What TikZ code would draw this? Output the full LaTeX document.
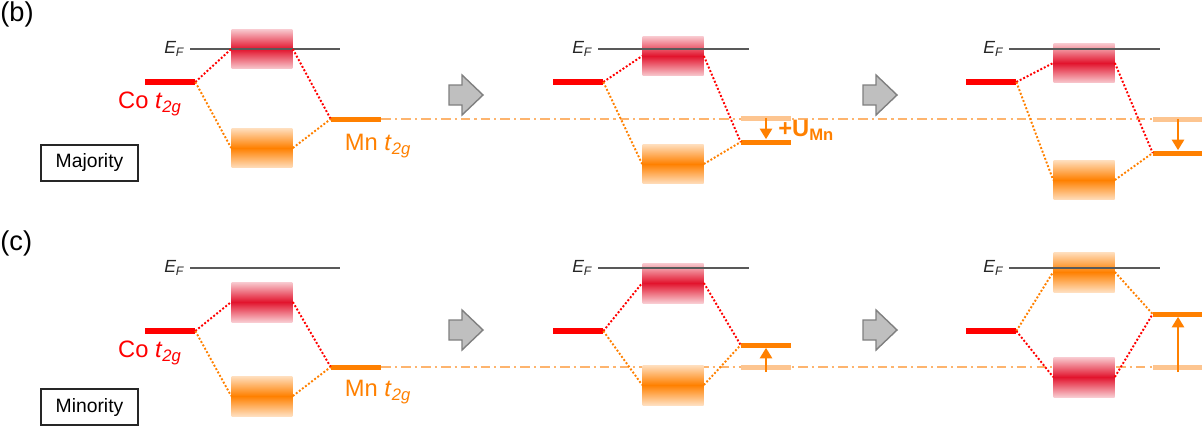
\documentclass[tikz,border=0pt]{standalone}
\usepackage{fontspec}
\setmainfont{Liberation Sans}
\usepackage{tikz}
\usetikzlibrary{positioning, arrows.meta, backgrounds}

\definecolor{coRed}{HTML}{FF0000}
\definecolor{bandRed}{HTML}{E2142D}
\definecolor{mnOrange}{HTML}{FF8000}
\definecolor{mnLight}{HTML}{FDC590}
\definecolor{refOrange}{HTML}{FDB46E}
\definecolor{efGray}{HTML}{595959}
\definecolor{stepGray}{HTML}{808080}
\definecolor{stepFill}{HTML}{BFBFBF}

\tikzset{
  lvl/.style={rectangle, inner sep=0pt, minimum width=1cm},
  colvl/.style={lvl, fill=coRed, minimum height=0.12cm},
  mnlvl/.style={lvl, fill=mnOrange, minimum height=0.1cm},
  oldlvl/.style={lvl, fill=mnLight, minimum height=0.1cm},
  band/.style={rectangle, inner sep=0pt, minimum width=1.22cm, minimum height=0.8cm},
  redband/.style={band, top color=bandRed!22, bottom color=bandRed!22, middle color=bandRed},
  orangeband/.style={band, top color=mnOrange!25, bottom color=mnOrange!25, middle color=mnOrange},
  redbond/.style={coRed, line width=1.1pt, dash pattern=on 1.1pt off 1.1pt},
  orangebond/.style={mnOrange, line width=1.1pt, dash pattern=on 1.1pt off 1.1pt},
  efline/.style={efGray, line width=1.1pt},
  eflabel/.style={left=3pt, inner sep=0pt, text=black!85, font=\fontsize{10}{12}\selectfont\itshape},
  refline/.style={refOrange, line width=1.1pt, dash pattern=on 5.5pt off 2.3pt on 1.2pt off 2.3pt},
  shiftarrow/.style={-{Triangle[length=6pt, width=7pt]}, mnOrange, line width=1.1pt},
  stepshape/.style={draw=stepGray, fill=stepFill, line width=0.8pt, line join=miter},
  spinbox/.style={draw=black!85, line width=1pt, minimum width=1.94cm, minimum height=0.72cm,
    font=\fontsize{11}{13}\selectfont},
  colabel/.style={text=coRed, inner sep=0pt, font=\fontsize{13.5}{16}\selectfont},
  mnlabel/.style={text=mnOrange, inner sep=0pt, font=\fontsize{13.5}{16}\selectfont},
  panellabel/.style={anchor=west, inner sep=0pt, font=\fontsize{15.5}{18}\selectfont},
}

\newcommand{\tg}{\textit{t}\textsubscript{\textit{2g}}}
\newcommand{\efermi}{E\textsubscript{F}}
% fat grey block arrow centred on a named coordinate
\newcommand{\steparrow}[1]{%
  \draw[stepshape] (#1) ++(-17,-10) -- ++(13,0) -- ++(0,-10) -- ++(21,20)
    -- ++(-21,20) -- ++(0,-10) -- ++(-13,0) -- cycle;}

\begin{document}
\begin{tikzpicture}[x=0.02cm, y=-0.02cm]
  \useasboundingbox (0,0) rectangle (1202,426);

  % ---------- (b) majority ----------
  \node[panellabel] (lb) at (0,14) {(b)};
  \node[spinbox] (maj) at (89.5,163) {Majority};

  % panel 1
  \node[redband] (rb1) at (262,49) {};
  \node[orangeband] (ob1) at (262,148) {};
  \node[colvl] (co1) at (170,82) {};
  \node[mnlvl] (mn1) at (356,119) {};
  \coordinate (efa1) at (190,49);
  \coordinate (efb1) at (340,49);
  \draw[efline] (efa1) -- (efb1);
  \node[eflabel] (efl1) at (efa1) {\efermi};
  \node[colabel] (col1) at (150,104) {Co \tg};
  \node[mnlabel] (mnl1) at (378,146) {Mn \tg};
  \draw[redbond] (co1.east) -- (rb1.west);
  \draw[redbond] (rb1.east) -- (mn1.west);
  \draw[orangebond] (co1.east) -- (ob1.west);
  \draw[orangebond] (ob1.east) -- (mn1.west);

  \coordinate (st1) at (466,95);
  \steparrow{st1}

  % panel 2
  \node[redband] (rb2) at (673,56) {};
  \node[orangeband] (ob2) at (673,164) {};
  \node[colvl] (co2) at (578,82) {};
  \node[oldlvl] (old2) at (766,118) {};
  \node[mnlvl] (mn2) at (766,142) {};
  \coordinate (efa2) at (598,49);
  \coordinate (efb2) at (749,49);
  \draw[efline] (efa2) -- (efb2);
  \node[eflabel] (efl2) at (efa2) {\efermi};
  \draw[redbond] (co2.east) -- (rb2.west);
  \draw[redbond] (rb2.east) -- (mn2.west);
  \draw[orangebond] (co2.east) -- (ob2.west);
  \draw[orangebond] (ob2.east) -- (mn2.west);
  \draw[shiftarrow] (old2.center) -- (mn2.north);
  \node[anchor=west, inner sep=0pt, text=mnOrange, font=\fontsize{13.5}{16}\selectfont\bfseries]
    (umn) at (778,130) {+U\textsubscript{Mn}};

  \coordinate (st2) at (880,95);
  \steparrow{st2}

  % panel 3
  \node[redband] (rb3) at (1084,63) {};
  \node[orangeband] (ob3) at (1084,180) {};
  \node[colvl] (co3) at (991,82) {};
  \node[oldlvl] (old3) at (1178,119) {};
  \node[mnlvl] (mn3) at (1178,153) {};
  \coordinate (efa3) at (1009,49);
  \coordinate (efb3) at (1160,49);
  \draw[efline] (efa3) -- (efb3);
  \node[eflabel] (efl3) at (efa3) {\efermi};
  \draw[redbond] (co3.east) -- (rb3.west);
  \draw[redbond] (rb3.east) -- (mn3.west);
  \draw[orangebond] (co3.east) -- (ob3.west);
  \draw[orangebond] (ob3.east) -- (mn3.west);
  \draw[shiftarrow] (old3.center) -- (mn3.north);

  % ---------- (c) minority ----------
  \node[panellabel] (lc) at (0,243) {(c)};
  \node[spinbox] (mnr) at (89.5,407) {Minority};

  % panel 1
  \node[redband] (rb4) at (262,302) {};
  \node[orangeband] (ob4) at (262,396) {};
  \node[colvl] (co4) at (170,331) {};
  \node[mnlvl] (mn4) at (356,367) {};
  \coordinate (efa4) at (190,268);
  \coordinate (efb4) at (340,268);
  \draw[efline] (efa4) -- (efb4);
  \node[eflabel] (efl4) at (efa4) {\efermi};
  \node[colabel] (col4) at (150,353) {Co \tg};
  \node[mnlabel] (mnl4) at (378,392) {Mn \tg};
  \draw[redbond] (co4.east) -- (rb4.west);
  \draw[redbond] (rb4.east) -- (mn4.west);
  \draw[orangebond] (co4.east) -- (ob4.west);
  \draw[orangebond] (ob4.east) -- (mn4.west);

  \coordinate (st3) at (466,330);
  \steparrow{st3}

  % panel 2
  \node[redband] (rb5) at (673,283) {};
  \node[orangeband] (ob5) at (673,385) {};
  \node[colvl] (co5) at (578,331) {};
  \node[oldlvl] (old5) at (766,367) {};
  \node[mnlvl] (mn5) at (766,345) {};
  \coordinate (efa5) at (598,268);
  \coordinate (efb5) at (749,268);
  \draw[efline] (efa5) -- (efb5);
  \node[eflabel] (efl5) at (efa5) {\efermi};
  \draw[redbond] (co5.east) -- (rb5.west);
  \draw[redbond] (rb5.east) -- (mn5.west);
  \draw[orangebond] (co5.east) -- (ob5.west);
  \draw[orangebond] (ob5.east) -- (mn5.west);
  \draw[shiftarrow] ([yshift=-0.1cm]old5.center) -- (mn5.south);

  \coordinate (st4) at (880,330);
  \steparrow{st4}

  % panel 3 (bands swapped)
  \node[orangeband] (ob6) at (1084,272) {};
  \node[redband] (rb6) at (1084,377) {};
  \node[colvl] (co6) at (991,331) {};
  \node[oldlvl] (old6) at (1178,367) {};
  \node[mnlvl] (mn6) at (1178,314) {};
  \coordinate (efa6) at (1009,268);
  \coordinate (efb6) at (1160,268);
  \draw[efline] (efa6) -- (efb6);
  \node[eflabel] (efl6) at (efa6) {\efermi};
  \draw[orangebond] (co6.east) -- (ob6.west);
  \draw[orangebond] (ob6.east) -- (mn6.west);
  \draw[redbond] (co6.east) -- (rb6.west);
  \draw[redbond] (rb6.east) -- (mn6.west);
  \draw[shiftarrow] ([yshift=-0.1cm]old6.center) -- (mn6.south);

  % reference Mn level, behind everything
  \begin{scope}[on background layer]
    \coordinate (refb) at (1202,119);
    \coordinate (refc) at (1202,367);
    \draw[refline] (mn1.east) -- (refb);
    \draw[refline] (mn4.east) -- (refc);
  \end{scope}
\end{tikzpicture}
\end{document}
